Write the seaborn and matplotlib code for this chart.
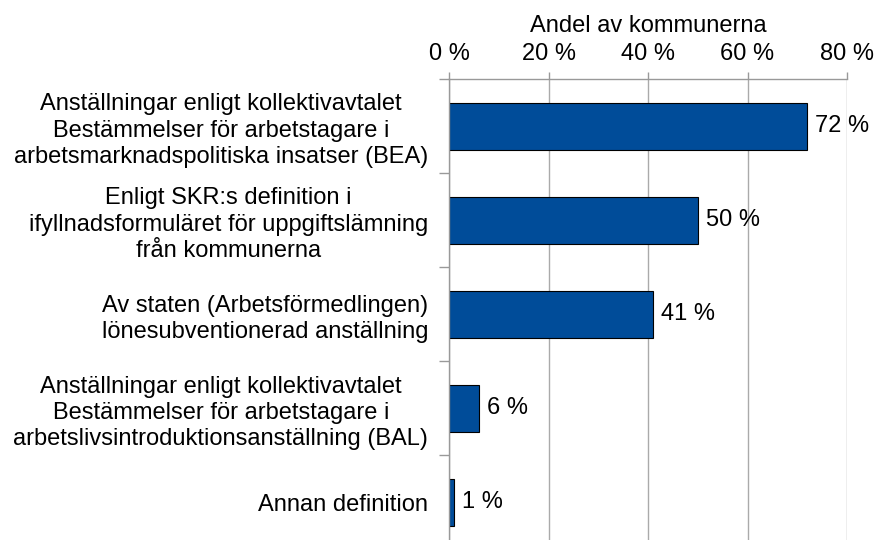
import matplotlib
matplotlib.use("Agg")
import matplotlib.pyplot as plt
import seaborn as sns
import pandas as pd
import numpy as np

categories = [
    "Anställningar enligt kollektivavtalet\nBestämmelser för arbetstagare i\narbetsmarknadspolitiska insatser (BEA)",
    "Enligt SKR:s definition i\nifyllnadsformuläret för uppgiftslämning\nfrån kommunerna",
    "Av staten (Arbetsförmedlingen)\nlönesubventionerad anställning",
    "Anställningar enligt kollektivavtalet\nBestämmelser för arbetstagare i\narbetslivsintroduktionsanställning (BAL)",
    "Annan definition",
]
values = [72, 50, 41, 6, 1]
xticks = [0, 20, 40, 60, 80]
xticklabels = ["0 %", "20 %", "40 %", "60 %", "80 %"]

sns.set_theme(style="white")
plt.rcParams["font.family"] = ["Liberation Sans", "DejaVu Sans"]

FS = 17

df = pd.DataFrame({"cat": categories, "val": values})

fig = plt.figure(figsize=(8.76, 5.4), dpi=100)
ax = fig.add_axes([449/876, 0.0, (847-449)/876, 1 - 79/540])

sns.barplot(data=df, x="val", y="cat", orient="h", color="#004c99",
            saturation=1, width=0.5, edgecolor="black", linewidth=0.8, ax=ax)

ax.set_xlim(0, 80)
ax.set_ylim(4.4, -0.5)
ax.xaxis.tick_top()
ax.xaxis.set_label_position("top")
ax.set_xticks(xticks)
ax.set_xticklabels(xticklabels, fontsize=FS, color="black")
ax.set_xlabel("Andel av kommunerna", fontsize=FS, color="black", labelpad=8)
ax.set_ylabel("")
ax.tick_params(axis="x", which="major", top=True, length=5, width=1, color="#999999", pad=5)

ax.grid(axis="x", color="#aaaaaa", linewidth=1)
ax.set_axisbelow(True)

for s in ["right", "bottom"]:
    ax.spines[s].set_visible(False)
for s in ["left", "top"]:
    ax.spines[s].set_color("#999999")
    ax.spines[s].set_linewidth(1)

# y labels
ax.set_yticks(range(len(categories)))
ax.set_yticklabels(categories, fontsize=FS, color="black", multialignment="center",
                   linespacing=1.25)
ax.tick_params(axis="y", which="major", length=0, pad=15)
ax.set_yticks(np.arange(-0.5, len(categories) - 0.5, 1.0), minor=True)
ax.tick_params(axis="y", which="minor", length=7, width=1, color="#999999", left=True)

for i, v in enumerate(values):
    ax.text(v + 1.6, i, f"{v} %", va="center", ha="left", fontsize=FS, color="black")

fig.savefig("out.png", dpi=100)
